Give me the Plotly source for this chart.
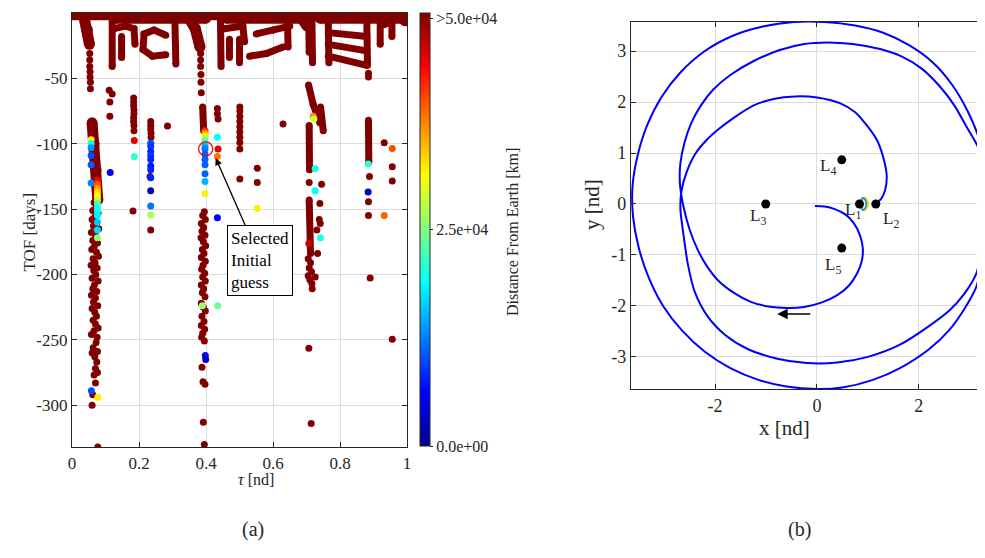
import plotly.graph_objects as go

# page body has an 8 px margin, so the figure is sized and positioned to compensate
OFF = 8
W, H = 985 - OFF, 558 - OFF
FONT = "Liberation Serif"
DR = "#800000"


def X(px):
    return (px - OFF) / W


def Y(py):
    return 1 - (py - OFF) / H


# ---------------- left panel data ----------------
comb_band_tau = [0.0, 1.0]
comb_band_tof = [-1.8, -1.8]

comb_thick_tau = [0.035, 0.046, 0.052, None, 0.345, 0.368, 0.382, None, 0.680, 0.702, None,
                  0.975, 0.995, None, 0.060, 0.066, 0.072, 0.077, None, 0.13, 0.40, None,
                  0.46, 0.70, None, 0.74, 0.99]
comb_thick_tof = [-2, -13, -24, None, -2, -12, -26, None, -2, -10, None,
                  -2, -6, None, -84, -100, -120, -143, None, -4, -4, None,
                  -4, -4, None, -4, -4]

comb_thin_tau = [0.12, 0.12, None, 0.125, 0.16, 0.185, 0.188, None, 0.148, 0.148, None,
                 0.28, 0.245, 0.215, 0.212, 0.24, 0.28, None, 0.307, 0.31, None,
                 0.443, 0.445, None, 0.455, 0.51, 0.515, None, 0.47, 0.47, None,
                 0.50, 0.50, None, 0.53, 0.58, 0.63, None, 0.55, 0.60, 0.65, None,
                 0.643, 0.645, None, 0.707, 0.708, None, 0.716, 0.718, None,
                 0.765, 0.767, None, 0.765, 0.88, None, 0.765, 0.88, None, 0.765, 0.88, None,
                 0.88, 0.882, None, 0.92, 0.92, None, 0.93, 0.955, 0.955, None,
                 0.390, 0.393, None, 0.708, 0.709, None, 0.706, 0.72, 0.74, None,
                 0.742, 0.75, None, 0.708, 0.712, None, 0.885, 0.886]
comb_thin_tof = [-4, -41, None, -12, -10, -12, -24, None, -18, -34, None,
                 -17, -13, -16, -28, -33, -32, None, -4, -39, None,
                 -2, -41, None, -12, -10, -22, None, -20, -34, None,
                 -20, -38, None, -33, -31, -26, None, -16, -13, -10, None,
                 -3, -26, None, -10, -30, None, -2, -38, None,
                 -8, -38, None, -15, -18, None, -24, -29, None, -33, -40, None,
                 -5, -40, None, -5, -24, None, -9, -7, -18, None,
                 -72, -90, None, -86, -120, None, -55, -70, -84, None,
                 -72, -90, None, -143, -184, None, -82, -114]

dr_tau = [0.053, 0.053, 0.053, 0.054, 0.054, 0.055, 0.055,
          0.384, 0.384, 0.384, 0.385, 0.385, 0.386,
          0.066, 0.072, 0.062, 0.078, 0.068, 0.060, 0.074, 0.064, 0.080, 0.058,
          0.070, 0.062, 0.076, 0.066, 0.059, 0.073, 0.079, 0.063, 0.069, 0.057,
          0.075, 0.065, 0.071, 0.060, 0.078, 0.067, 0.062, 0.074, 0.058, 0.070,
          0.064, 0.077, 0.060, 0.068, 0.073, 0.063, 0.070, 0.078, 0.066, 0.058,
          0.075, 0.072, 0.063, 0.076, 0.060, 0.068, 0.074, 0.070, 0.076, 0.066,
          0.070, 0.062, 0.060, 0.077,
          0.111, 0.120, 0.113, 0.113,
          0.184, 0.184, 0.184, 0.185, 0.185, 0.184, 0.184, 0.185, 0.185, 0.182,
          0.235, 0.235, 0.235, 0.236, 0.236, 0.235, 0.233, 0.285,
          0.395, 0.390, 0.398, 0.386, 0.393, 0.388, 0.397, 0.385, 0.392, 0.399,
          0.389, 0.394, 0.386, 0.398, 0.391, 0.387, 0.396, 0.390, 0.398, 0.386,
          0.393, 0.389, 0.397, 0.386, 0.392, 0.398, 0.388, 0.394, 0.386, 0.396,
          0.390, 0.387, 0.395, 0.388, 0.391, 0.397, 0.392, 0.395,
          0.434, 0.434, 0.436,
          0.501, 0.501, 0.501, 0.501, 0.501, 0.501, 0.501, 0.501, 0.501, 0.501,
          0.553, 0.553, 0.630,
          0.708, 0.745, 0.705, 0.712, 0.708, 0.715, 0.705, 0.710, 0.716, 0.726,
          0.717, 0.740, 0.738, 0.741, 0.731, 0.733, 0.707, 0.714,
          0.885, 0.885, 0.888, 0.885, 0.885, 0.890,
          0.932, 0.956, 0.956, 0.956]
dr_tof = [-31, -36, -41, -45, -49, -53, -58,
          -31, -36, -41, -47, -53, -61,
          -145, -148, -151, -153, -156, -158, -160, -163, -165, -168,
          -170, -174, -176, -179, -181, -183, -186, -188, -191, -193,
          -195, -197, -200, -203, -205, -208, -211, -213, -216, -218,
          -221, -224, -226, -229, -232, -235, -238, -241, -243, -246,
          -248, -252, -256, -259, -260, -263, -267, -272, -275, -277,
          -283, -292, -300, -332,
          -59, -62, -68, -79,
          -65, -68, -71, -74, -77, -80, -83, -86, -90, -151.5,
          -83, -86, -89, -92, -95, -166, -125, -86.5,
          -152, -155, -158, -161, -164, -167, -170, -172, -175, -178,
          -181, -184, -187, -190, -193, -196, -199, -202, -205, -208,
          -211, -214, -217, -222, -225, -228, -232, -236, -239, -242,
          -245, -248, -251, -271, -282, -284, -313, -330,
          -73, -77, -81,
          -72, -75, -79, -83, -87, -91, -95, -99, -104, -127,
          -118.7, -129.6, -85,
          -129.6, -131, -188, -191, -195, -198, -201, -204, -207, -202,
          -211, -145.7, -158, -161, -166, -184, -256.5, -314,
          -46, -49, -125, -144.4, -155, -202.7,
          -99.3, -117.7, -128.6, -249.6]

c_tau = [0.057, 0.057, 0.057, 0.057, 0.057, 0.057,
         0.076, 0.076, 0.076, 0.076, 0.076, 0.076, 0.076, 0.076, 0.076, 0.076, 0.076, 0.076, 0.076,
         0.058, 0.077,
         0.114, 0.186, 0.186,
         0.235, 0.235, 0.235, 0.235, 0.235, 0.235, 0.235, 0.235, 0.235, 0.235, 0.235,
         0.397, 0.397, 0.397, 0.397, 0.397, 0.397, 0.397, 0.397, 0.397, 0.397, 0.397,
         0.397, 0.397, 0.397, 0.398, 0.399, 0.389,
         0.434, 0.436, 0.434, 0.434, 0.435,
         0.553,
         0.720, 0.722, 0.726, 0.726, 0.707, 0.742,
         0.884, 0.884,
         0.956, 0.932]
c_tof = [-97, -100, -103, -109, -116, -130,
         -128, -131, -134, -137, -140, -143, -146, -149, -152, -155, -160, -166, -172,
         -289, -294,
         -122, -97.6, -110,
         -99.7, -102, -106, -109, -112, -117, -120, -126, -136, -147.6, -154.5,
         -90, -92, -94, -96, -98, -100, -102, -104, -108, -112, -116,
         -122.9, -128.9, -138, -262, -265, -224,
         -95, -104, -109.8, -156.7, -224,
         -149.5,
         -79, -81, -119, -136, -176.4, -172,
         -115.5, -137,
         -103.6, -155]
c_dist = [32000, 19000, 13000, 10000, 11000, 13000,
          44000, 40000, 36000, 33000, 31000, 29000, 22000, 20000, 19000, 18000, 16000, 17000, 26000,
          10000, 32000,
          5000, 45000, 21000,
          10000, 9000, 8000, 9000, 8000, 7000, 8000, 8000, 2000, 12000, 27000,
          42000, 36000, 32000, 28000, 23000, 20000, 15000, 12000, 11000, 11000, 11000,
          11000, 15000, 32000, 6000, 2000, 26000,
          19000, 45000, 38000, 6000, 24000,
          32000,
          37000, 29000, 20000, 19000, 46000, 20000,
          21000, 3000,
          40000, 39000]

sel_tau = [0.399]
sel_tof = [-104]

left_xticks = [0, 0.2, 0.4, 0.6, 0.8, 1]
left_xlabels = ["0", "0.2", "0.4", "0.6", "0.8", "1"]
left_yticks = [-300, -250, -200, -150, -100, -50]
left_ylabels = ["-300", "-250", "-200", "-150", "-100", "-50"]
cbar_ticks = [0, 25000, 49400]
cbar_labels = ["0.0e+00", "2.5e+04", ">5.0e+04"]

# ---------------- right panel data ----------------
# transfer trajectory, traced in order (parts beyond the right edge are clipped)
traj_x = [-0.04, 0.15, 0.35, 0.55, 0.72, 0.84, 0.90, 0.88, 0.79, 0.63, 0.40, 0.10, -0.25, -0.60,
          -0.95, -1.30, -1.62, -1.94, -2.16, -2.34, -2.50, -2.62, -2.69, -2.68, -2.60, -2.47,
          -2.28, -2.03, -1.70, -1.25, -0.73, -0.25, 0.20, 0.70, 1.24, 1.65, 2.05, 2.41, 2.70,
          2.94, 3.12, 3.26, 3.36, 3.40, 3.38, 3.27,
          3.13, 2.90, 2.60, 2.20, 1.63, 1.10, 0.50, 0.00, -0.60, -1.15, -1.70, -2.20,
          -2.65, -3.02, -3.30, -3.50, -3.61, -3.62, -3.52, -3.33, -3.05, -2.68, -2.20, -1.65,
          -1.06, -0.45, 0.15, 0.75, 1.30, 1.80, 2.27, 2.66, 2.96, 3.16, 3.26, 3.36, 3.42,
          3.36, 3.27, 3.13, 2.88, 2.61, 2.15, 1.63, 1.00, 0.40, -0.20, -0.80, -1.35, -1.80, -2.15,
          -2.40, -2.53, -2.62, -2.68, -2.66, -2.56, -2.39, -2.18, -1.94, -1.62, -1.25, -0.85,
          -0.43, 0.00, 0.45, 0.75, 0.98, 1.18, 1.30, 1.37, 1.34, 1.26, 1.16]
traj_y = [-0.04, -0.05, -0.10, -0.20, -0.37, -0.60, -0.86, -1.12, -1.36, -1.60, -1.79, -1.93, -2.02, -2.04,
          -2.01, -1.92, -1.75, -1.50, -1.22, -0.90, -0.50, -0.05, 0.40, 0.80, 1.20, 1.58,
          1.93, 2.25, 2.53, 2.80, 3.02, 3.14, 3.17, 3.14, 3.04, 2.90, 2.66, 2.31, 1.93,
          1.51, 1.20, 0.90, 0.45, 0.00, -0.40, -1.00,
          -1.62, -2.05, -2.47, -2.85, -3.22, -3.45, -3.60, -3.63, -3.58, -3.45, -3.22, -2.90,
          -2.48, -2.00, -1.45, -0.85, -0.25, 0.35, 0.95, 1.55, 2.10, 2.58, 3.00, 3.30,
          3.48, 3.57, 3.57, 3.50, 3.36, 3.12, 2.78, 2.33, 1.82, 1.35, 1.00, 0.50, 0.00,
          -0.30, -0.75, -1.36, -1.78, -2.08, -2.43, -2.76, -3.00, -3.11, -3.12, -3.03, -2.85, -2.57, -2.20,
          -1.72, -1.20, -0.60, -0.10, 0.25, 0.62, 0.98, 1.24, 1.46, 1.70, 1.93, 2.06,
          2.11, 2.09, 1.98, 1.80, 1.54, 1.25, 0.92, 0.55, 0.28, 0.10, 0.02]

halo_x = [0.92, 0.96, 0.98, 0.96, 0.92, 0.88, 0.86, 0.88, 0.92]
halo_y = [0.12, 0.08, 0.00, -0.08, -0.12, -0.08, 0.00, 0.08, 0.12]
halo_colors = ["#FF3000", "#FF9900", "#33CC66", "#E6D000", "#1E90FF"]
halo_dx = [0.0, 0.012, -0.008, 0.02, -0.015]

lag_names = ["1", "2", "3", "4", "5"]
lag_x = [0.836, 1.156, -1.005, 0.487, 0.487]
lag_y = [0.0, 0.0, 0.0, 0.866, -0.866]
lag_lab_x = [0.70, 1.46, -1.16, 0.22, 0.31]
lag_lab_y = [-0.14, -0.32, -0.26, 0.72, -1.22]

right_xticks = [-2, 0, 2]
right_xlabels = ["-2", "0", "2"]
right_yticks = [-3, -2, -1, 0, 1, 2, 3]
right_ylabels = ["-3", "-2", "-1", "0", "1", "2", "3"]

# ---------------- figure ----------------
fig = go.Figure()

fig.add_trace(go.Scatter(x=comb_band_tau, y=comb_band_tof, mode="lines",
                         line=dict(color=DR, width=10), xaxis="x", yaxis="y", hoverinfo="skip"))
fig.add_trace(go.Scatter(x=comb_thick_tau, y=comb_thick_tof, mode="lines+markers",
                         line=dict(color=DR, width=11), marker=dict(color=DR, size=11),
                         xaxis="x", yaxis="y", hoverinfo="skip"))
fig.add_trace(go.Scatter(x=comb_thin_tau, y=comb_thin_tof, mode="lines+markers",
                         line=dict(color=DR, width=7), marker=dict(color=DR, size=7),
                         xaxis="x", yaxis="y", hoverinfo="skip"))
fig.add_trace(go.Scatter(x=dr_tau, y=dr_tof, mode="markers",
                         marker=dict(color=DR, size=7), xaxis="x", yaxis="y"))

jet = [[0.0, "#00008F"], [0.125, "#0000FF"], [0.375, "#00FFFF"],
       [0.625, "#FFFF00"], [0.875, "#FF0000"], [1.0, "#800000"]]
fig.add_trace(go.Scatter(
    x=c_tau, y=c_tof, mode="markers", xaxis="x", yaxis="y",
    marker=dict(color=c_dist, colorscale=jet, cmin=0, cmax=50000, size=7,
                colorbar=dict(x=X(420), xanchor="left", xpad=0, ypad=0,
                              y=Y(229.5), yanchor="middle", len=433 / H, lenmode="fraction",
                              thickness=10, thicknessmode="pixels",
                              outlinecolor="#262626", outlinewidth=1,
                              tickmode="array", tickvals=cbar_ticks, ticktext=cbar_labels,
                              ticklabeloverflow="allow",
                              ticks="outside", ticklen=3, tickcolor="#262626",
                              tickfont=dict(family=FONT, size=16, color="#262626")))))
fig.add_trace(go.Scatter(x=sel_tau, y=sel_tof, mode="markers", xaxis="x", yaxis="y",
                         marker=dict(symbol="circle-open", size=14, color="red",
                                     line=dict(width=1.3, color="red"))))

fig.add_trace(go.Scatter(x=traj_x, y=traj_y, mode="lines", xaxis="x2", yaxis="y2",
                         line=dict(color="#0000FF", width=2, shape="spline", smoothing=0.8)))
for col, dx in zip(halo_colors, halo_dx):
    fig.add_trace(go.Scatter(x=[v + dx for v in halo_x], y=halo_y, mode="lines",
                             xaxis="x2", yaxis="y2",
                             line=dict(color=col, width=1.6, shape="spline")))
fig.add_trace(go.Scatter(x=lag_x, y=lag_y, mode="markers", xaxis="x2", yaxis="y2",
                         marker=dict(color="black", size=9)))

axcol = "#262626"
grid = "#DCDCDC"
common = dict(showline=True, linecolor=axcol, linewidth=1.2, mirror="ticks", ticks="inside",
              ticklen=5, tickcolor=axcol, showgrid=True, gridcolor=grid, gridwidth=1,
              zeroline=False, automargin=False)

fig.update_layout(
    width=W, height=H, margin=dict(l=0, r=0, t=0, b=0),
    paper_bgcolor="white", plot_bgcolor="white", showlegend=False,
    font=dict(family=FONT, color="black"),
    xaxis=dict(domain=[X(72), X(407)], range=[0, 1], tickvals=left_xticks,
               ticktext=left_xlabels,
               tickfont=dict(family=FONT, size=17, color=axcol), anchor="y", **common),
    yaxis=dict(domain=[Y(447), Y(13)], range=[-332, 0],
               tickvals=left_yticks, ticktext=left_ylabels,
               tickfont=dict(family=FONT, size=17, color=axcol), anchor="x", **common),
    xaxis2=dict(domain=[X(631), X(983)], range=[-3.65, 3.26], tickvals=right_xticks,
                ticktext=right_xlabels,
                tickfont=dict(family=FONT, size=18, color=axcol), anchor="y2", **common),
    yaxis2=dict(domain=[Y(389), Y(22)], range=[-3.63, 3.57],
                tickvals=right_yticks, ticktext=right_ylabels,
                tickfont=dict(family=FONT, size=18, color=axcol), anchor="x2", **common),
)

ann = []


def txt(px, py, s, size, angle=0):
    ann.append(dict(x=X(px), y=Y(py), xref="paper", yref="paper", text=s, showarrow=False,
                    textangle=angle, font=dict(family=FONT, size=size, color=axcol)))


txt(18, 232, "TOF [days]", 17, -90)
txt(236, 490, "<i>τ</i> [nd]", 16)
txt(513, 232, "Distance From Earth [km]", 16, -90)
txt(592, 205, "y [nd]", 21, -90)
txt(812, 442, "x [nd]", 21)
txt(240, 543, "(a)", 20)
txt(813, 543, "(b)", 20)

for n, lx, ly in zip(lag_names, lag_lab_x, lag_lab_y):
    ann.append(dict(x=lx, y=ly, xref="x2", yref="y2", text="L<sub>" + n + "</sub>",
                    showarrow=False, font=dict(family=FONT, size=17, color=axcol)))

ann.append(dict(x=-0.78, y=-2.16, xref="x2", yref="y2", ax=-0.1, ay=-2.16,
                axref="x2", ayref="y2", text="", showarrow=True, arrowhead=2,
                arrowsize=1.3, arrowwidth=1.6, arrowcolor="black"))

ann.append(dict(x=0.429, y=-111, xref="x", yref="y", ax=0.5625, ay=-189,
                axref="x", ayref="y", text="Selected<br>Initial<br>guess", align="left",
                showarrow=True, arrowhead=2, arrowsize=1.1, arrowwidth=1.3, arrowcolor="black",
                bordercolor="black", borderwidth=1, borderpad=3, bgcolor="white",
                font=dict(family=FONT, size=17, color="black")))

fig.update_layout(annotations=ann)
fig.write_html("out.html")
